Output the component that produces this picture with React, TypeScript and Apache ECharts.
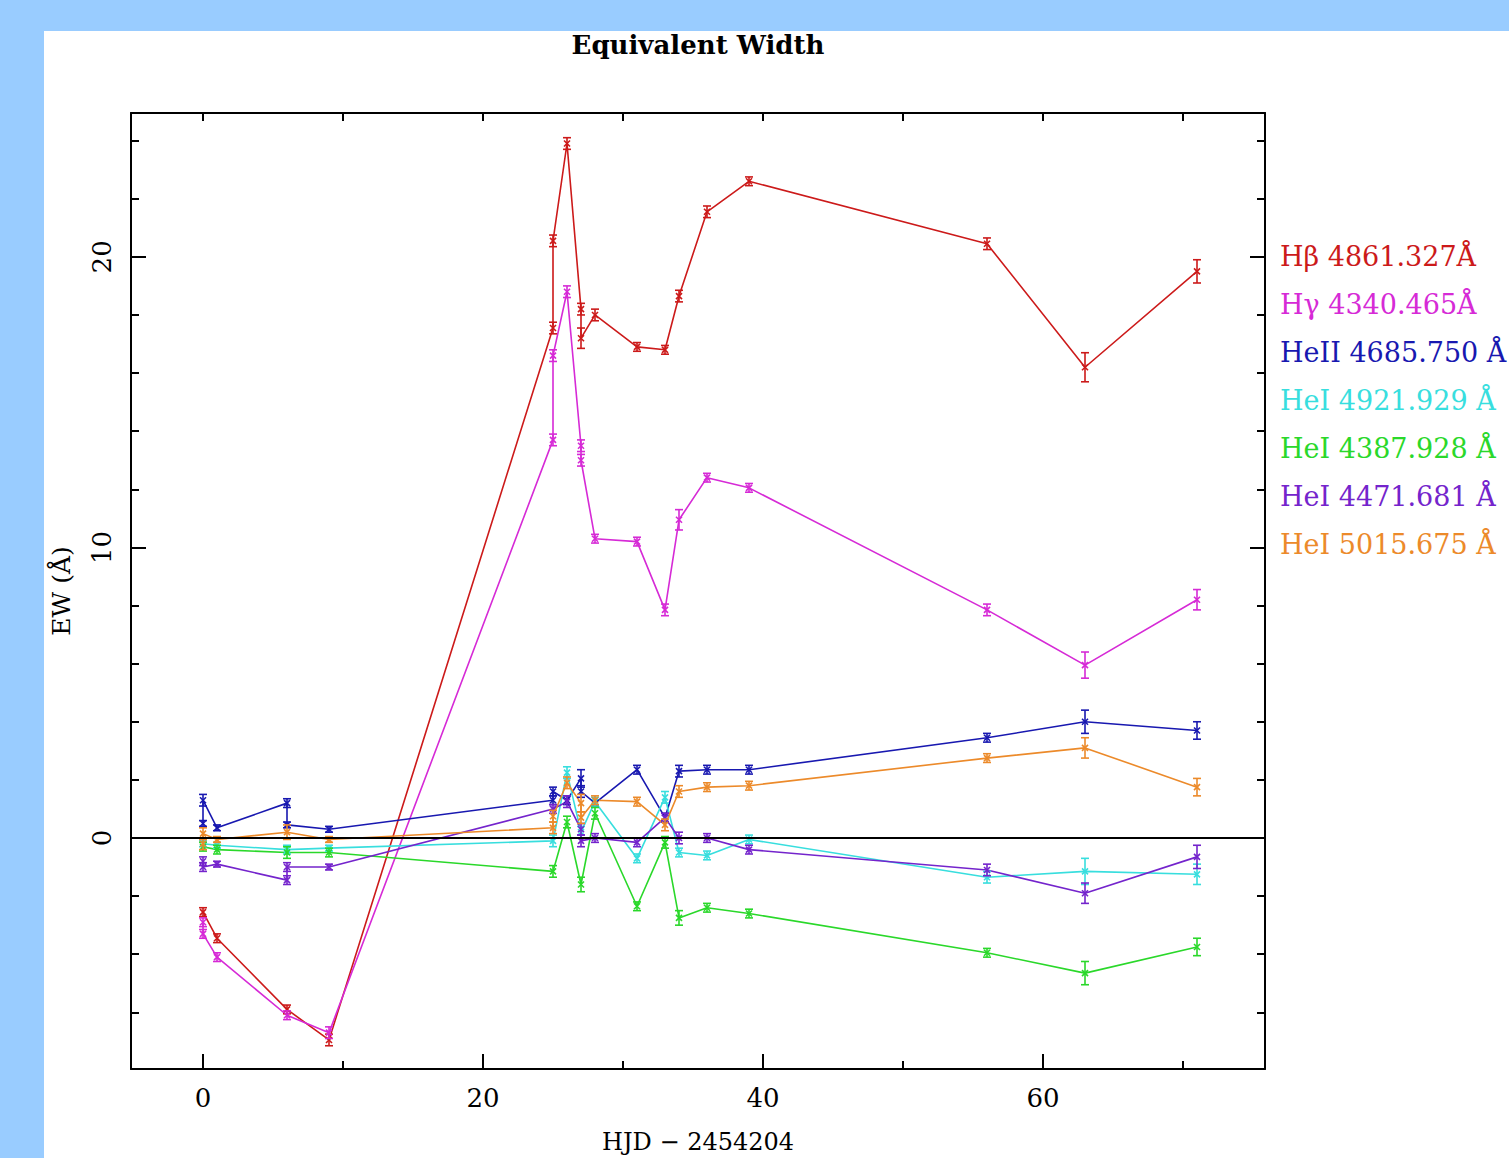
import React, { useEffect, useRef } from "react";
import * as echarts from "echarts";

// ---- data (HJD - 2454204, EW in Å, error) ----
const hbX = [0, 1, 6, 9, 25, 25, 26, 27, 27, 28, 31, 33, 34, 36, 39, 56, 63, 71];
const hbY = [-2.55, -3.45, -5.9, -6.95, 17.55, 20.55, 23.9, 18.2, 17.2, 18.0, 16.9, 16.8, 18.65, 21.55, 22.6, 20.45, 16.2, 19.5];
const hbErr = [0.15, 0.15, 0.15, 0.2, 0.2, 0.2, 0.2, 0.2, 0.35, 0.2, 0.15, 0.15, 0.2, 0.2, 0.15, 0.2, 0.5, 0.4];

const hgX = [0, 0, 1, 6, 9, 25, 25, 26, 27, 27, 28, 31, 33, 34, 36, 39, 56, 63, 71];
const hgY = [-2.9, -3.3, -4.1, -6.1, -6.7, 13.7, 16.6, 18.8, 13.5, 13.0, 10.3, 10.2, 7.85, 10.95, 12.4, 12.05, 7.85, 5.95, 8.2];
const hgErr = [0.15, 0.15, 0.15, 0.15, 0.2, 0.2, 0.2, 0.2, 0.2, 0.2, 0.15, 0.15, 0.2, 0.35, 0.15, 0.15, 0.2, 0.45, 0.35];

const he2X = [0, 0, 1, 6, 6, 9, 25, 25, 26, 27, 27, 28, 31, 33, 34, 36, 39, 56, 63, 71];
const he2Y = [0.5, 1.3, 0.35, 1.2, 0.45, 0.3, 1.3, 1.6, 1.3, 2.05, 1.6, 1.2, 2.35, 0.7, 2.3, 2.35, 2.35, 3.45, 4.0, 3.7];
const he2Err = [0.1, 0.2, 0.1, 0.15, 0.1, 0.1, 0.15, 0.15, 0.15, 0.3, 0.2, 0.1, 0.15, 0.15, 0.2, 0.15, 0.15, 0.15, 0.4, 0.3];

const c4921X = [0, 1, 6, 9, 25, 26, 27, 28, 31, 33, 34, 36, 39, 56, 63, 71];
const c4921Y = [-0.2, -0.25, -0.4, -0.35, -0.1, 2.25, 0.2, 1.25, -0.7, 1.4, -0.5, -0.6, -0.05, -1.35, -1.15, -1.25];
const c4921Err = [0.1, 0.1, 0.15, 0.1, 0.2, 0.2, 0.2, 0.15, 0.15, 0.2, 0.15, 0.15, 0.15, 0.2, 0.45, 0.35];

const g4387X = [0, 1, 6, 9, 25, 26, 27, 28, 31, 33, 34, 36, 39, 56, 63, 71];
const g4387Y = [-0.3, -0.4, -0.5, -0.5, -1.15, 0.55, -1.6, 0.85, -2.35, -0.15, -2.75, -2.4, -2.6, -3.95, -4.65, -3.75];
const g4387Err = [0.15, 0.15, 0.2, 0.15, 0.2, 0.2, 0.25, 0.2, 0.15, 0.2, 0.25, 0.15, 0.15, 0.15, 0.4, 0.3];

const p4471X = [0, 0, 1, 6, 6, 9, 25, 26, 27, 27, 28, 31, 33, 34, 36, 39, 56, 63, 71];
const p4471Y = [-0.8, -1.0, -0.9, -1.45, -1.0, -1.0, 1.0, 1.25, 0.3, -0.1, 0.0, -0.15, 0.7, 0.0, 0.0, -0.4, -1.1, -1.9, -0.65];
const p4471Err = [0.15, 0.15, 0.1, 0.15, 0.15, 0.1, 0.15, 0.2, 0.2, 0.2, 0.15, 0.15, 0.15, 0.2, 0.15, 0.15, 0.2, 0.35, 0.4];

const o5015X = [0, 0, 1, 6, 9, 25, 25, 26, 27, 27, 28, 31, 33, 34, 36, 39, 56, 63, 71];
const o5015Y = [-0.2, 0.15, -0.05, 0.2, -0.05, 0.35, 0.75, 1.9, 1.2, 0.7, 1.3, 1.25, 0.45, 1.6, 1.75, 1.8, 2.75, 3.1, 1.75];
const o5015Err = [0.2, 0.2, 0.1, 0.25, 0.1, 0.2, 0.2, 0.2, 0.3, 0.2, 0.15, 0.15, 0.2, 0.2, 0.15, 0.15, 0.15, 0.35, 0.3];

const legendLabels = [
  "Hβ 4861.327Å",
  "Hγ 4340.465Å",
  "HeII 4685.750 Å",
  "HeI 4921.929 Å",
  "HeI 4387.928 Å",
  "HeI 4471.681 Å",
  "HeI 5015.675 Å",
];

const xMajorTicks = [0, 20, 40, 60];
const xMinorTicks = [10, 30, 50, 70];
const xAllTicks = [0, 10, 20, 30, 40, 50, 60, 70];
const yMajorTicks = [0, 10, 20];
const yMinorTicks = [-6, -4, -2, 2, 4, 6, 8, 12, 14, 16, 18, 22, 24];

const SERIES = [
  { color: "#cc1a1a", x: hbX, y: hbY, err: hbErr },
  { color: "#d62ad6", x: hgX, y: hgY, err: hgErr },
  { color: "#1818b0", x: he2X, y: he2Y, err: he2Err },
  { color: "#38dede", x: c4921X, y: c4921Y, err: c4921Err },
  { color: "#2ad82a", x: g4387X, y: g4387Y, err: g4387Err },
  { color: "#7424cc", x: p4471X, y: p4471Y, err: p4471Err },
  { color: "#ec8a2a", x: o5015X, y: o5015Y, err: o5015Err },
];

const FONT = "DejaVu Serif";
const X_MIN = -5.143;
const X_MAX = 75.857;
const Y_MIN = -7.95;
const Y_MAX = 24.95;

export default function App() {
  const ref = useRef<HTMLDivElement>(null);

  useEffect(() => {
    if (!ref.current) return;
    const chart = echarts.init(ref.current, undefined, { renderer: "svg" });

    const axisLineStyle = { color: "#000", width: 2 };
    const baseX = (extra: any) => ({
      type: "value",
      min: X_MIN,
      max: X_MAX,
      splitLine: { show: false },
      ...extra,
    });
    const baseY = (extra: any) => ({
      type: "value",
      min: Y_MIN,
      max: Y_MAX,
      splitLine: { show: false },
      ...extra,
    });

    const series: any[] = [];
    SERIES.forEach((s, i) => {
      const pts = s.x.map((xv, k) => [xv, s.y[k]]);
      series.push({
        type: "line",
        data: pts,
        showSymbol: false,
        symbol: "none",
        lineStyle: { color: s.color, width: 1.6 },
        z: 3,
        markLine:
          i === 0
            ? {
                silent: true,
                symbol: "none",
                label: { show: false },
                lineStyle: { color: "#000", width: 2, type: "solid" },
                data: [{ yAxis: 0 }],
              }
            : undefined,
      });
      series.push({
        type: "custom",
        data: s.x.map((xv, k) => [xv, s.y[k], s.err[k]]),
        encode: { x: 0, y: 1 },
        z: 4,
        renderItem: (_p: any, api: any) => {
          const xv = api.value(0);
          const yv = api.value(1);
          const e = api.value(2);
          const t = api.coord([xv, yv + e]);
          const b = api.coord([xv, yv - e]);
          const c = api.coord([xv, yv]);
          const w = 4;
          const st = { stroke: s.color, lineWidth: 1.6 };
          return {
            type: "group",
            children: [
              { type: "line", shape: { x1: t[0], y1: t[1], x2: b[0], y2: b[1] }, style: st },
              { type: "line", shape: { x1: t[0] - w, y1: t[1], x2: t[0] + w, y2: t[1] }, style: st },
              { type: "line", shape: { x1: b[0] - w, y1: b[1], x2: b[0] + w, y2: b[1] }, style: st },
              { type: "line", shape: { x1: c[0] - 3, y1: c[1] - 3, x2: c[0] + 3, y2: c[1] + 3 }, style: st },
              { type: "line", shape: { x1: c[0] - 3, y1: c[1] + 3, x2: c[0] + 3, y2: c[1] - 3 }, style: st },
            ],
          };
        },
      });
    });

    const graphics: any[] = [
      {
        type: "text",
        style: {
          text: "Equivalent Width",
          x: 698,
          y: 45,
          align: "center",
          verticalAlign: "middle",
          font: `bold 26px "${FONT}"`,
          fill: "#000",
        },
      },
      {
        type: "text",
        style: {
          text: "HJD − 2454204",
          x: 698,
          y: 1142,
          align: "center",
          verticalAlign: "middle",
          font: `24px "${FONT}"`,
          fill: "#000",
        },
      },
      {
        type: "text",
        x: 61,
        y: 591,
        rotation: Math.PI / 2,
        style: {
          text: "EW (Å)",
          x: 0,
          y: 0,
          align: "center",
          verticalAlign: "middle",
          font: `25px "${FONT}"`,
          fill: "#000",
        },
      },
    ];
    legendLabels.forEach((lab, i) => {
      graphics.push({
        type: "text",
        style: {
          text: lab,
          x: 1280,
          y: 256 + i * 48,
          align: "left",
          verticalAlign: "middle",
          font: `27px "${FONT}"`,
          fill: SERIES[i].color,
        },
      });
    });

    chart.setOption({
      animation: false,
      backgroundColor: "transparent",
      grid: { left: 131, top: 113, width: 1134, height: 956, containLabel: false },
      xAxis: [
        baseX({
          position: "bottom",
          axisLine: { show: true, lineStyle: axisLineStyle, onZero: false },
          axisTick: { show: true, inside: true, length: 15, customValues: xMajorTicks, lineStyle: { color: "#000", width: 2 } },
          axisLabel: { show: true, customValues: xMajorTicks, margin: 16, fontSize: 26, fontFamily: FONT, color: "#000" },
        }),
        baseX({
          position: "bottom",
          axisLine: { show: false, onZero: false },
          axisTick: { show: true, inside: true, length: 8, customValues: xMinorTicks, lineStyle: { color: "#000", width: 2 } },
          axisLabel: { show: false },
        }),
        baseX({
          position: "top",
          axisLine: { show: true, lineStyle: axisLineStyle, onZero: false },
          axisTick: { show: true, inside: true, length: 8, customValues: xAllTicks, lineStyle: { color: "#000", width: 2 } },
          axisLabel: { show: false },
        }),
      ],
      yAxis: [
        baseY({
          position: "left",
          axisLine: { show: true, lineStyle: axisLineStyle, onZero: false },
          axisTick: { show: true, inside: true, length: 15, customValues: yMajorTicks, lineStyle: { color: "#000", width: 2 } },
          axisLabel: { show: true, customValues: yMajorTicks, rotate: 90, margin: 16, fontSize: 26, fontFamily: FONT, color: "#000" },
        }),
        baseY({
          position: "left",
          axisLine: { show: false, onZero: false },
          axisTick: { show: true, inside: true, length: 8, customValues: yMinorTicks, lineStyle: { color: "#000", width: 2 } },
          axisLabel: { show: false },
        }),
        baseY({
          position: "right",
          axisLine: { show: true, lineStyle: axisLineStyle, onZero: false },
          axisTick: { show: true, inside: true, length: 15, customValues: yMajorTicks, lineStyle: { color: "#000", width: 2 } },
          axisLabel: { show: false },
        }),
        baseY({
          position: "right",
          axisLine: { show: false, onZero: false },
          axisTick: { show: true, inside: true, length: 8, customValues: yMinorTicks, lineStyle: { color: "#000", width: 2 } },
          axisLabel: { show: false },
        }),
      ],
      graphic: graphics,
      series,
    });

    return () => chart.dispose();
  }, []);

  return (
    <div style={{ position: "fixed", left: 0, top: 0, width: 1509, height: 1158, background: "#99ccff", overflow: "hidden" }}>
      <div style={{ position: "absolute", left: 44, top: 31, right: 0, bottom: 0, background: "#ffffff" }} />
      <div ref={ref} style={{ position: "absolute", left: 0, top: 0, width: 1509, height: 1158 }} />
    </div>
  );
}
